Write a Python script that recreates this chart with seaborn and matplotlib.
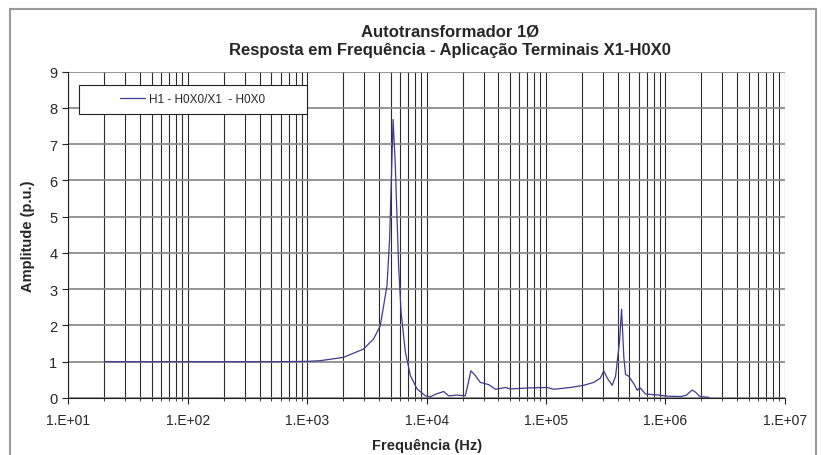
import numpy as np
import pandas as pd
import matplotlib
matplotlib.use("Agg")
import matplotlib.pyplot as plt
import matplotlib.ticker as mticker
from matplotlib.patches import Rectangle
import seaborn as sns

freq_hz = [20, 100, 500, 1000, 1285, 2010, 2960, 3600, 4090, 4660, 4900, 5060, 5240,
           5470, 5830, 6110, 6640, 7310, 8320, 9770, 10700, 11800, 13900, 15300,
           18000, 21100, 22300, 23500, 25600, 28200, 33100, 37800, 45700, 50100,
           74100, 102000, 116000, 160000, 207000, 251000, 286000, 305000, 326000,
           359000, 383000, 413000, 430000, 449000, 464000, 494000, 545000, 582000,
           611000, 682000, 883000, 1040000, 1340000, 1510000, 1570000, 1680000,
           1790000, 1950000, 2320000]
amplitude = [1.00, 1.00, 1.00, 1.01, 1.03, 1.12, 1.35, 1.63, 1.99, 3.10, 4.38, 5.96, 7.68,
             6.41, 3.65, 2.37, 1.27, 0.62, 0.25, 0.06, 0.03, 0.10, 0.18, 0.06,
             0.08, 0.06, 0.40, 0.75, 0.62, 0.43, 0.37, 0.24, 0.29, 0.25,
             0.28, 0.29, 0.24, 0.29, 0.35, 0.43, 0.55, 0.75, 0.55,
             0.35, 0.60, 1.55, 2.45, 1.13, 0.65, 0.60, 0.39, 0.21,
             0.29, 0.11, 0.08, 0.05, 0.04, 0.08, 0.14, 0.22,
             0.16, 0.04, 0.02]
series_name = "H1 - H0X0/X1  - H0X0"
y_ticks = list(range(0, 10))
x_decades = [1e1, 1e2, 1e3, 1e4, 1e5, 1e6, 1e7]
x_tick_labels = ["1.E+01", "1.E+02", "1.E+03", "1.E+04", "1.E+05", "1.E+06", "1.E+07"]

df = pd.DataFrame({"freq": freq_hz, "amp": amplitude, "serie": series_name})

sns.set_style("white")
plt.rcParams['font.family'] = ['Liberation Sans', 'DejaVu Sans']

fig = plt.figure(figsize=(8.26, 4.56), dpi=100)
ax = fig.add_axes([0.0829, 0.125, 0.8671, 0.7156])

sns.lineplot(data=df, x="freq", y="amp", hue="serie", palette=["#3c3c8e"],
             linewidth=0.9, ax=ax, legend=True, zorder=3)
ax.set_xscale("log")
ax.set_xlim(10, 1e7)
ax.set_ylim(0, 9)
ax.set_yticks(y_ticks)

minor_x = [d * k for d in x_decades[:-1] for k in range(2, 10)]
ax.xaxis.set_major_locator(mticker.FixedLocator(x_decades))
ax.xaxis.set_minor_locator(mticker.FixedLocator(minor_x))
ax.xaxis.set_major_formatter(mticker.FixedFormatter(x_tick_labels))
ax.xaxis.set_minor_formatter(mticker.NullFormatter())

ax.grid(True, axis="y", which="major", color="#8c8c8c", linewidth=1.3)
ax.grid(True, axis="x", which="major", color="#2a2a2a", linewidth=0.8)
ax.grid(True, axis="x", which="minor", color="#2a2a2a", linewidth=0.8)
ax.set_axisbelow(True)

for s in ["top", "right"]:
    ax.spines[s].set_visible(False)
for s in ["left", "bottom"]:
    ax.spines[s].set_color("#222222")
    ax.spines[s].set_linewidth(0.8)

ax.tick_params(axis="y", which="major", direction="out", length=4, width=0.8,
               color="#222222", labelsize=10.5, pad=4, left=True)
ax.tick_params(axis="x", which="major", direction="out", length=4, width=0.8,
               color="#222222", labelsize=10, pad=7, bottom=True)
ax.tick_params(axis="x", which="minor", direction="out", length=2, width=0.6,
               color="#222222", bottom=True)

ax.set_xlabel("Frequência (Hz)", fontsize=10.5, fontweight="bold", labelpad=8)
ax.set_ylabel("Amplitude (p.u.)", fontsize=10.5, fontweight="bold", labelpad=10)

fig.text(0.5445, 1 - 32 / 456, "Autotransformador 1Ø",
         ha="center", va="center", fontsize=12, fontweight="bold")
fig.text(0.5445, 1 - 51 / 456, "Resposta em Frequência - Aplicação Terminais X1-H0X0",
         ha="center", va="center", fontsize=12, fontweight="bold")

# legend: white box + centered content
ax.add_patch(Rectangle((0.01466, 0.8704), 0.3182, 0.0888, transform=ax.transAxes,
                       facecolor="white", edgecolor="#222222", linewidth=0.8,
                       zorder=4, clip_on=False))
leg = ax.legend(loc="center", bbox_to_anchor=(0.1738, 0.9148), frameon=False,
                fontsize=8.5, handlelength=2.1, borderpad=0, handletextpad=0.35)
leg.set_zorder(5)
for t in leg.get_texts():
    t.set_text(series_name)

fig.patches.append(Rectangle((10 / 826, -0.05), 806 / 826, 1 - 10 / 456 + 0.05,
                             transform=fig.transFigure, fill=False,
                             edgecolor="#9a9a9a", linewidth=1.5))

fig.savefig("out.png", dpi=100)
